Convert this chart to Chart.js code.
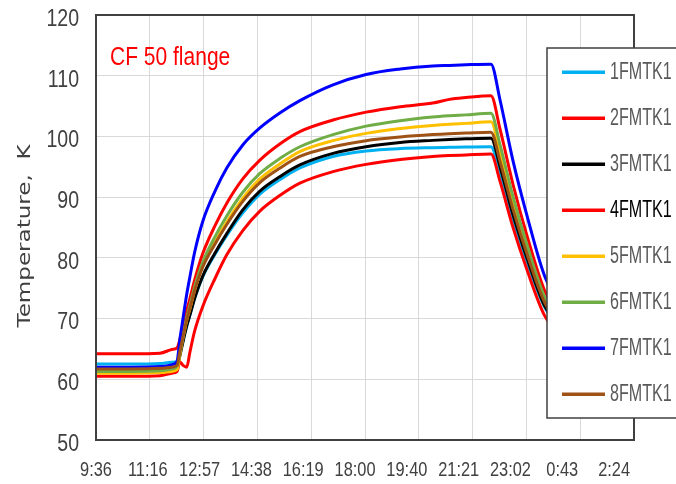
<!DOCTYPE html>
<html>
<head>
<meta charset="utf-8">
<script src="https://cdn.jsdelivr.net/npm/chart.js@4/dist/chart.umd.min.js"></script>
<style>
html,body{margin:0;padding:0;background:#fff;}
canvas{display:block;}
</style>
</head>
<body>
<canvas id="c" width="676" height="484"></canvas>
<script>
// ---- data ----
const times = ['9:36','10:40','11:36','11:58','12:08','12:13','12:19','12:26','12:32','12:41','12:56','13:19','13:41','14:11','14:43','15:21','15:58','17:00','18:02','19:06','20:07','20:38','21:09','21:56','22:13','22:37','23:04','23:37','0:24','1:11'];

const s1FMTK1 = [62.5,62.5,62.6,62.8,62.9,64.3,66.3,68.8,70.6,73.4,76.9,80.6,83.7,87.4,90.5,92.9,94.8,96.7,97.6,98.0,98.15,98.2,98.25,98.3,93.8,86.4,79.2,71.8,66.5,63.5];
const s2FMTK1 = [64.2,64.2,64.3,64.9,65.2,66.5,68.5,71.3,73.3,76.4,80.7,85.3,89.0,93.0,96.1,98.8,100.8,102.7,104.0,104.9,105.5,106.1,106.4,106.7,101.2,92.2,83.5,74.5,68.0,64.5];
const s3FMTK1 = [61.4,61.4,61.5,61.7,61.9,63.8,66.2,68.8,70.6,73.4,77.0,80.8,84.0,87.9,91.0,93.4,95.3,97.2,98.3,99.0,99.35,99.5,99.6,99.7,95.0,87.2,79.8,72.0,66.8,63.7];
const s4FMTK1 = [60.5,60.5,60.6,61.0,61.3,62.9,62.3,62.0,64.5,68.0,72.0,76.6,80.5,84.5,87.7,90.3,92.3,94.2,95.4,96.2,96.7,96.85,96.95,97.1,92.6,85.1,77.9,70.4,65.5,62.8];
const s5FMTK1 = [61.0,61.0,61.1,61.3,61.6,64.0,66.8,69.7,71.6,74.7,78.6,82.6,85.9,89.8,93.0,95.5,97.5,99.3,100.5,101.3,101.8,102.0,102.15,102.4,97.4,89.2,81.2,73.0,67.5,64.2];
const s6FMTK1 = [61.3,61.3,61.4,61.7,62.2,64.5,67.2,70.2,72.2,75.3,79.3,83.5,86.9,90.8,93.9,96.4,98.3,100.3,101.7,102.6,103.2,103.4,103.55,103.8,98.6,90.2,82.0,73.5,68.0,64.5];
const s7FMTK1 = [62.0,62.0,62.1,62.4,63.0,66.5,70.0,74.0,76.9,81.0,86.0,91.0,94.8,98.6,101.4,103.9,105.9,108.5,110.2,111.1,111.6,111.7,111.8,111.9,106.0,96.1,86.8,76.9,70.0,66.0];
const s8FMTK1 = [61.7,61.7,61.8,62.0,62.3,64.5,67.0,69.8,71.7,74.7,78.5,82.3,85.5,89.3,92.4,94.8,96.7,98.3,99.3,99.9,100.3,100.45,100.55,100.7,95.9,88.1,80.5,72.6,67.3,64.0];

const seriesNames = ['1FMTK1','2FMTK1','3FMTK1','4FMTK1','5FMTK1','6FMTK1','7FMTK1','8FMTK1'];
const seriesValues = [s1FMTK1,s2FMTK1,s3FMTK1,s4FMTK1,s5FMTK1,s6FMTK1,s7FMTK1,s8FMTK1];
const seriesColors = ['#00B0F0','#FF0000','#000000','#FF0000','#FFC000','#70AD47','#0000FF','#9E5216'];

const xTickLabels = ['9:36','11:16','12:57','14:38','16:19','18:00','19:40','21:21','23:02','0:43','2:24'];
const yTicks = [50,60,70,80,90,100,110,120];
const chartTitle = 'CF 50 flange';
const yTitle = 'Temperature,  K';

// ---- helpers ----
function toHours(s){
  const p = s.split(':');
  let h = parseInt(p[0],10) + parseInt(p[1],10)/60;
  if (h < 9) h += 24; // after midnight
  return h;
}
const xHours = times.map(toHours);
const X_MIN = 9.6, X_STEP = 1.68; // 9:36 start, 1:40:48 major unit
const xTickHours = xTickLabels.map((l,i)=> X_MIN + i*X_STEP);
const X_MAX = xTickHours[xTickHours.length-1];

const datasets = seriesValues.map((vals,i)=>({
  label: seriesNames[i],
  data: vals.map((v,j)=>({x:xHours[j], y:v})),
  borderColor: seriesColors[i],
  backgroundColor: seriesColors[i],
  borderWidth: 3,
  pointRadius: 0,
  cubicInterpolationMode: 'monotone',
  fill: false,
  order: seriesValues.length - i
}));

const FONT = '"Liberation Sans", Arial, sans-serif';

function squeezedText(ctx, text, x, y, size, sx, sy, align, color){
  ctx.save();
  ctx.translate(x, y);
  ctx.scale(sx, sy);
  ctx.font = size + 'px ' + FONT;
  ctx.fillStyle = color;
  ctx.textAlign = align;
  ctx.textBaseline = 'alphabetic';
  ctx.fillText(text, 0, 0);
  ctx.restore();
}

const decor = {
  id: 'decor',
  afterDatasetsDraw(chart){
    const {ctx, chartArea:a} = chart;
    ctx.save();
    ctx.strokeStyle = '#404040';
    ctx.lineWidth = 2;
    ctx.strokeRect(a.left, a.top, a.right - a.left, a.bottom - a.top);
    ctx.restore();
    // chart title
    squeezedText(ctx, chartTitle, 110, 65, 25, 0.84, 1, 'left', '#FF0000');
  },
  afterDraw(chart){
    const {ctx, chartArea:a} = chart;
    const xs = chart.scales.x, ys = chart.scales.y;
    // y tick labels
    yTicks.forEach(v=>{
      const py = ys.getPixelForValue(v);
      squeezedText(ctx, String(v), a.left - 17, py + 10.8, 23, 0.85, 1, 'right', '#404040');
    });
    // x tick labels
    xTickLabels.forEach((l,i)=>{
      const px = xs.getPixelForValue(xTickHours[i]);
      const lx = a.left + (px - a.left) * 0.963;
      squeezedText(ctx, l, lx, a.bottom + 36, 21, 0.78, 1, 'center', '#404040');
    });

    // y axis title
    ctx.save();
    ctx.translate(30, 236);
    ctx.rotate(-Math.PI/2);
    ctx.scale(1.28, 1);
    ctx.font = '18px "DejaVu Sans", sans-serif';
    ctx.fillStyle = '#404040';
    ctx.textAlign = 'center';
    ctx.textBaseline = 'alphabetic';
    ctx.fillText(yTitle, 0, 0);
    ctx.restore();

    // legend box
    ctx.save();
    const bx = 547, by = 48, bw = 140, bh = 370;
    ctx.fillStyle = '#FFFFFF';
    ctx.fillRect(bx, by, bw, bh);
    ctx.strokeStyle = '#404040';
    ctx.lineWidth = 1.5;
    ctx.strokeRect(bx, by, bw, bh);
    seriesNames.forEach((name,i)=>{
      const y = 72.3 + i*46.0;
      ctx.strokeStyle = seriesColors[i];
      ctx.lineWidth = 3.5;
      ctx.beginPath();
      ctx.moveTo(562, y);
      ctx.lineTo(605, y);
      ctx.stroke();
      squeezedText(ctx, name, 610, y + 6.3, 23, 0.70, 1, 'left', i === 3 ? '#000000' : '#595959');
    });
    ctx.restore();
  }
};

new Chart(document.getElementById('c'), {
  type: 'line',
  data: { datasets },
  plugins: [decor],
  options: {
    responsive: false,
    devicePixelRatio: 1,
    animation: false,
    layout: { padding: { top: 15, right: 42, left: 0, bottom: 0 } },
    plugins: { legend: { display: false }, tooltip: { enabled: false }, title: { display: false } },
    elements: { line: { borderCapStyle: 'round', borderJoinStyle: 'round' } },
    scales: {
      x: {
        type: 'linear',
        min: X_MIN,
        max: X_MAX,
        afterBuildTicks(s){ s.ticks = xTickHours.map(v=>({value:v})); },
        afterFit(s){ s.height = 44; },
        ticks: { display: false },
        grid: { color: '#D9D9D9', lineWidth: 1, drawTicks: false },
        border: { display: false }
      },
      y: {
        min: 50,
        max: 120,
        afterBuildTicks(s){ s.ticks = yTicks.map(v=>({value:v})); },
        afterFit(s){ s.width = 96; },
        ticks: { display: false },
        grid: { color: '#D9D9D9', lineWidth: 1, drawTicks: false },
        border: { display: false }
      }
    }
  }
});
</script>
</body>
</html>
